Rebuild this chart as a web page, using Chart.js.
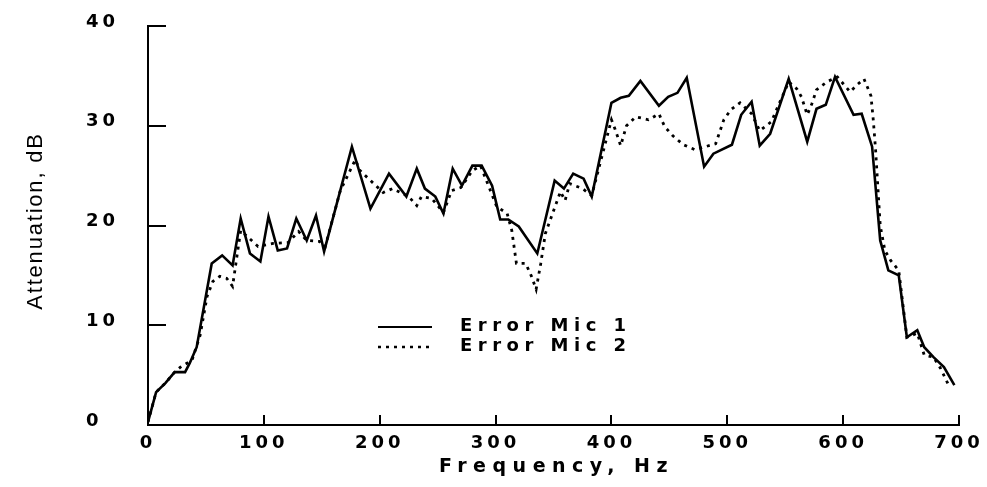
<!DOCTYPE html>
<html><head><meta charset="utf-8">
<script src="https://cdn.jsdelivr.net/npm/chart.js@4.4.0/dist/chart.umd.min.js"></script>
<style>html,body{margin:0;padding:0;background:#fff}#wrap{width:987px;height:487px}</style>
</head><body><div id="wrap"><canvas id="c" width="987" height="487"></canvas></div>
<script>
const seriesNames = ['Error Mic 1', 'Error Mic 2'];
const xTitle = 'Frequency, Hz';
const yTitle = 'Attenuation, dB';
const xTicks = [0, 100, 200, 300, 400, 500, 600, 700];
const yTicks = [0, 10, 20, 30, 40];

const mic1Freq = [0,7,15,23,32,36,42,55,64,73,80,88,97,104,112,120,128,137,145,152,176,192,208,223,232,239,248,255,263,271,280,288,297,304,311,320,336,351,359,367,376,383,400,408,415,425,441,449,457,465,480,488,504,512,521,528,537,553,569,577,585,593,609,616,625,632,639,648,655,664,670,678,687,696];
const mic1Atten = [0.3,3.3,4.2,5.3,5.3,6.2,7.8,16.2,17,16,20.7,17.2,16.4,20.9,17.5,17.7,20.7,18.5,21,17.4,27.9,21.7,25.2,22.9,25.7,23.7,22.9,21.2,25.7,24,26,26,24,20.6,20.6,19.9,17.2,24.5,23.7,25.2,24.7,22.9,32.3,32.8,33,34.5,32,32.9,33.3,34.8,25.9,27.2,28.1,31.1,32.4,28,29.2,34.7,28.4,31.7,32.1,34.9,31.1,31.2,27.9,18.5,15.5,15,8.8,9.5,7.8,6.8,5.8,4];

const mic2Freq = [0,7,15,23,28,38,45,51,56,62,68,73,80,95,108,121,130,137,148,153,166,179,183,203,211,225,232,236,245,255,262,270,280,287,301,310,314,318,326,331,335,339,343,356,360,364,375,383,400,403,408,413,421,432,441,446,453,462,472,490,497,503,511,521,528,538,544,553,560,564,569,573,577,586,595,606,612,618,624,626,628,632,636,641,648,655,664,670,678,684,691];
const mic2Atten = [0.3,3.3,4.2,5.3,5.8,6.5,9,12.9,14.4,14.9,14.7,13.9,19.5,17.9,18.2,18.3,19.4,18.5,18.4,17.9,23.5,26.6,25.5,23.3,23.7,22.9,22,22.9,22.7,21.3,23.5,23.8,25.5,26,21.9,21.2,19.5,16.2,16.2,14.9,13.6,16.2,19.2,23.4,22.5,24.2,23.7,23,30.6,29.7,28,30,30.9,30.6,31.2,29.9,29,28.1,27.6,28.2,30.6,31.6,32.3,31.2,29.5,30.4,32,34.4,33.7,32.9,31.1,32.2,33.6,34.4,34.9,33.4,34.1,34.7,33,30.6,27.6,20,17.5,16.5,15.5,8.8,9.2,7,6.8,5.7,4];

const toPts = (xs, ys) => xs.map((x, i) => ({x: x, y: ys[i]}));
const TICK_FONT = {family: 'DejaVu Sans', size: 18, weight: 'bold'};

const decor = {
  id: 'decor',
  beforeDraw(chart) {
    chart.ctx.letterSpacing = '4px';
  },
  afterDraw(chart) {
    const ctx = chart.ctx;
    const xs = chart.scales.x, ys = chart.scales.y;
    const ca = chart.chartArea;
    ctx.save();
    ctx.strokeStyle = '#000';
    ctx.lineWidth = 2;
    ctx.setLineDash([]);
    // inward ticks
    yTicks.forEach(v => {
      if (v === 0) return;
      const p = Math.round(ys.getPixelForValue(v));
      ctx.beginPath(); ctx.moveTo(ca.left, p); ctx.lineTo(ca.left + 18, p); ctx.stroke();
    });
    xTicks.forEach(v => {
      if (v === 0) return;
      const p = Math.round(xs.getPixelForValue(v));
      ctx.beginPath(); ctx.moveTo(p, ca.bottom); ctx.lineTo(p, ca.bottom - 10); ctx.stroke();
    });
    // legend
    const lx0 = 378, lx1 = 432;
    ctx.lineWidth = 2.2;
    ctx.beginPath(); ctx.moveTo(lx0, 327); ctx.lineTo(lx1, 327); ctx.stroke();
    ctx.lineWidth = 2.6;
    ctx.setLineDash([3, 5]);
    ctx.beginPath(); ctx.moveTo(lx0, 347); ctx.lineTo(lx1, 347); ctx.stroke();
    ctx.setLineDash([]);
    ctx.fillStyle = '#000';
    ctx.font = 'bold 18px "DejaVu Sans"';
    ctx.letterSpacing = '5.5px';
    ctx.textAlign = 'left';
    ctx.textBaseline = 'middle';
    ctx.fillText(seriesNames[0], 460, 326);
    ctx.fillText(seriesNames[1], 460, 346);
    // x title
    ctx.font = 'bold 19px "DejaVu Sans"';
    ctx.letterSpacing = '6.5px';
    ctx.textAlign = 'center';
    ctx.fillText(xTitle, (ca.left + ca.right) / 2 + 3, 467);
    // y title
    ctx.translate(36, 221);
    ctx.rotate(-Math.PI / 2);
    ctx.font = '22px "Liberation Sans"';
    ctx.letterSpacing = '1.8px';
    ctx.fillText(yTitle, 0, 0);
    ctx.restore();
  }
};

new Chart(document.getElementById('c'), {
  type: 'line',
  data: {
    datasets: [
      {label: seriesNames[0], data: toPts(mic1Freq, mic1Atten), borderColor: '#000', borderWidth: 2.6, pointRadius: 0, tension: 0, fill: false},
      {label: seriesNames[1], data: toPts(mic2Freq, mic2Atten), borderColor: '#000', borderWidth: 2.8, borderDash: [3, 5], pointRadius: 0, tension: 0, fill: false}
    ]
  },
  options: {
    responsive: false,
    animation: false,
    devicePixelRatio: 1,
    layout: {padding: {left: 86, top: 26, right: 28, bottom: 0}},
    plugins: {legend: {display: false}, tooltip: {enabled: false}},
    scales: {
      x: {
        type: 'linear', min: 0, max: 700,
        afterBuildTicks: s => { s.ticks = xTicks.map(v => ({value: v})); },
        afterFit: s => { s.height = 62; },
        grid: {display: false},
        border: {display: true, color: '#000', width: 2},
        ticks: {color: '#000', font: TICK_FONT, padding: 0, maxRotation: 0, autoSkip: false}
      },
      y: {
        type: 'linear', min: 0, max: 40,
        afterBuildTicks: s => { s.ticks = yTicks.map(v => ({value: v})); },
        afterFit: s => { s.width = 62; },
        grid: {display: false},
        border: {display: true, color: '#000', width: 2},
        ticks: {color: '#000', font: TICK_FONT, crossAlign: 'far', labelOffset: -4, autoSkip: false}
      }
    }
  },
  plugins: [decor]
});
</script></body></html>
